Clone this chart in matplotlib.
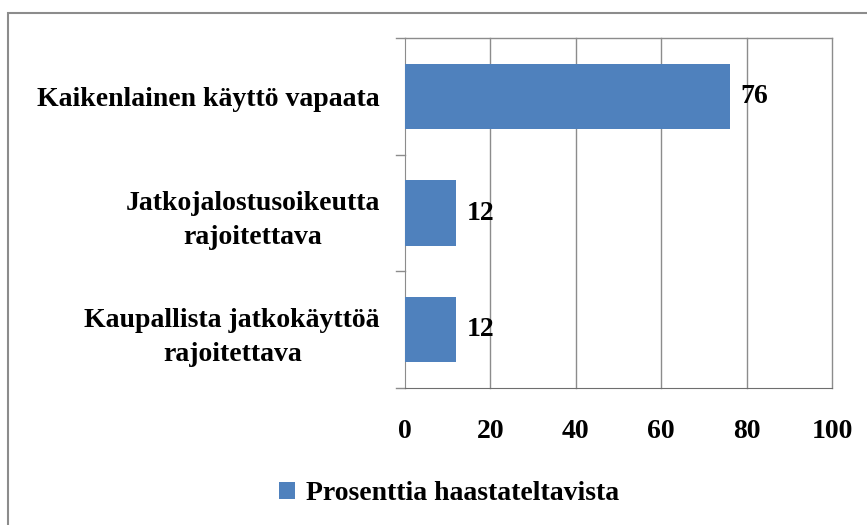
import matplotlib
matplotlib.use("Agg")
import matplotlib.pyplot as plt
from matplotlib.patches import Rectangle

categories = ["Kaikenlainen käyttö vapaata", "Jatkojalostusoikeutta\nrajoitettava", "Kaupallista jatkokäyttöä\nrajoitettava"]
values = [76, 12, 12]
xticks = [0, 20, 40, 60, 80, 100]
series_name = "Prosenttia haastateltavista"

plt.rcParams['font.family'] = ['Liberation Serif', 'DejaVu Serif']
plt.rcParams['font.weight'] = 'bold'

FS = 20
fig = plt.figure(figsize=(8.67, 5.25), dpi=100)
ax = fig.add_axes([405/867, 1-388/525, (832-405)/867, (388-38)/525])

ypos = [2, 1, 0]
bars = ax.barh(ypos, values, height=0.56, color="#4F81BD", label=series_name, zorder=3)
ax.set_xlim(0, 100)
ax.set_ylim(-0.5, 2.5)
ax.set_xticks(xticks)
ax.set_xticklabels([str(t) for t in xticks], fontsize=FS, fontweight='bold')
ax.set_yticks(ypos)
ax.set_yticklabels(categories, fontsize=FS, fontweight='bold', ha='right', multialignment='center')
ax.tick_params(axis='y', length=0, pad=18)
ax.tick_params(axis='x', length=0, pad=22)
for lbl in ax.get_yticklabels():
    lbl.set_linespacing(1.5)

# gridlines
for t in xticks[1:]:
    ax.axvline(t, color="#8C8C8C", lw=1, zorder=1, clip_on=False)
# category boundary ticks on the y axis
for b in [-0.5, 0.5, 1.5, 2.5]:
    ax.plot([-0.02, 0], [b, b], transform=ax.get_yaxis_transform(), color="#8C8C8C", lw=1, clip_on=False)
ax.axhline(2.5, color="#8C8C8C", lw=1, clip_on=False)

for s in ['top', 'right']:
    ax.spines[s].set_visible(False)
ax.spines['left'].set_color("#8C8C8C")
ax.spines['bottom'].set_color("#6E6E6E")

for y, v in zip(ypos, values):
    ax.text(v + 2.5, y, str(v), va='center', ha='left', fontsize=FS, fontweight='bold')

leg = fig.legend(handles=[bars], labels=[series_name], loc='center', bbox_to_anchor=(449/867, 1-494/525),
                 frameon=False, handlelength=0.55, handleheight=0.55, handletextpad=0.4,
                 prop={'weight': 'bold', 'size': FS})

fig.patches.append(Rectangle((8/867, -0.1), 1.2, 1.1-13/525, transform=fig.transFigure, fill=False,
                             edgecolor="#8C8C8C", lw=1.5))

fig.savefig("out.png", dpi=100)
